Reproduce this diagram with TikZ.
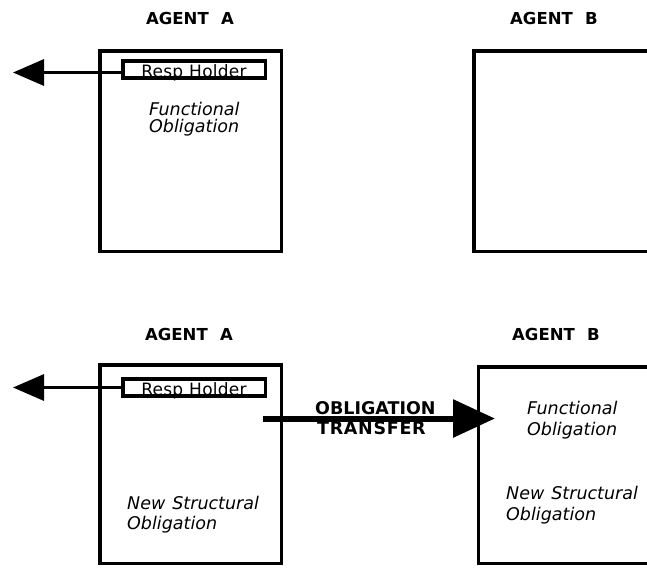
\documentclass[tikz,border=0pt]{standalone}
\usepackage{fontspec}
\setmainfont{DejaVu Sans}
\usetikzlibrary{arrows.meta}

\tikzset{
  agentbox/.style={draw, line width=3.5pt, inner sep=0pt},
  holder/.style={draw, line width=3.5pt, inner sep=0pt, minimum width=142.5pt,
    minimum height=17.25pt, text height=15pt, text depth=0pt,
    font=\fontsize{17}{18}\selectfont\addfontfeature{LetterSpace=1.5}},
  agentlabel/.style={anchor=base, inner sep=0pt,
    font=\fontsize{16.5}{19}\selectfont\bfseries},
  oblig/.style={anchor=north west, inner sep=0pt, align=left,
    font=\fontsize{17.5}{#1}\selectfont\itshape},
  oblig/.default={20},
  transferlabel/.style={anchor=north west, inner sep=0pt, align=left,
    font=\fontsize{17.5}{19.5}\selectfont\bfseries},
  pointer/.style={line width=3.2pt, -{Triangle[length=31pt, width=26pt]}},
  transfer/.style={line width=6pt, -{Triangle[length=42pt, width=37pt]}}
}

\begin{document}
\begin{tikzpicture}[x=1pt, y=-1pt]
  \useasboundingbox (0,0) rectangle (647,568);

  % ---------- upper situation ----------
  \node[agentlabel] (labA1) at (190,24) {AGENT\hspace{0.75em}A};
  \node[agentlabel] (labB1) at (554,24) {AGENT\hspace{0.75em}B};

  \node[agentbox, minimum width=181.5pt, minimum height=200.5pt] (boxA1) at (190.5,151) {};
  \node[agentbox, minimum width=186.25pt, minimum height=200.5pt] (boxB1) at (566.9,151) {};

  \node[holder] (rhA1) at (194,69.6) {Resp\hspace{0.35em}Holder};
  \coordinate (outA1) at (13,72.5);
  \draw[pointer] (outA1 -| rhA1.west) -- (outA1);

  \node[oblig=17.5] (funA1) at (149,101.5) {Functional\\Obligation};

  % ---------- lower situation ----------
  \node[agentlabel] (labA2) at (189,340) {AGENT\hspace{0.75em}A};
  \node[agentlabel] (labB2) at (556,340) {AGENT\hspace{0.75em}B};

  \node[agentbox, minimum width=181.5pt, minimum height=198.5pt] (boxA2) at (190.5,464) {};
  \node[agentbox, minimum width=181.5pt, minimum height=196.5pt] (boxB2) at (569.25,465) {};

  \node[holder] (rhA2) at (194,387.5) {Resp\hspace{0.35em}Holder};
  \coordinate (outA2) at (13,387.5);
  \draw[pointer] (outA2 -| rhA2.west) -- (outA2);

  \node[oblig] (strA2) at (127,495.5) {New\hspace{0.4em}Structural\\Obligation};

  \node[oblig=21] (funB2) at (527,400.5) {Functional\\Obligation};
  \node[oblig=21] (strB2) at (506,485.5) {New\hspace{0.4em}Structural\\Obligation};

  % obligation handed over from A to B
  \coordinate (trStart) at (263,418.5);
  \coordinate (trEnd) at (495,418.5);
  \draw[transfer] (trStart) -- (trEnd);
  \node[transferlabel] (trLabel) at (315,401.5)
    {OBLIGATION\\\hspace{2pt}{\addfontfeature{LetterSpace=4}TRANSFER}};
\end{tikzpicture}
\end{document}
